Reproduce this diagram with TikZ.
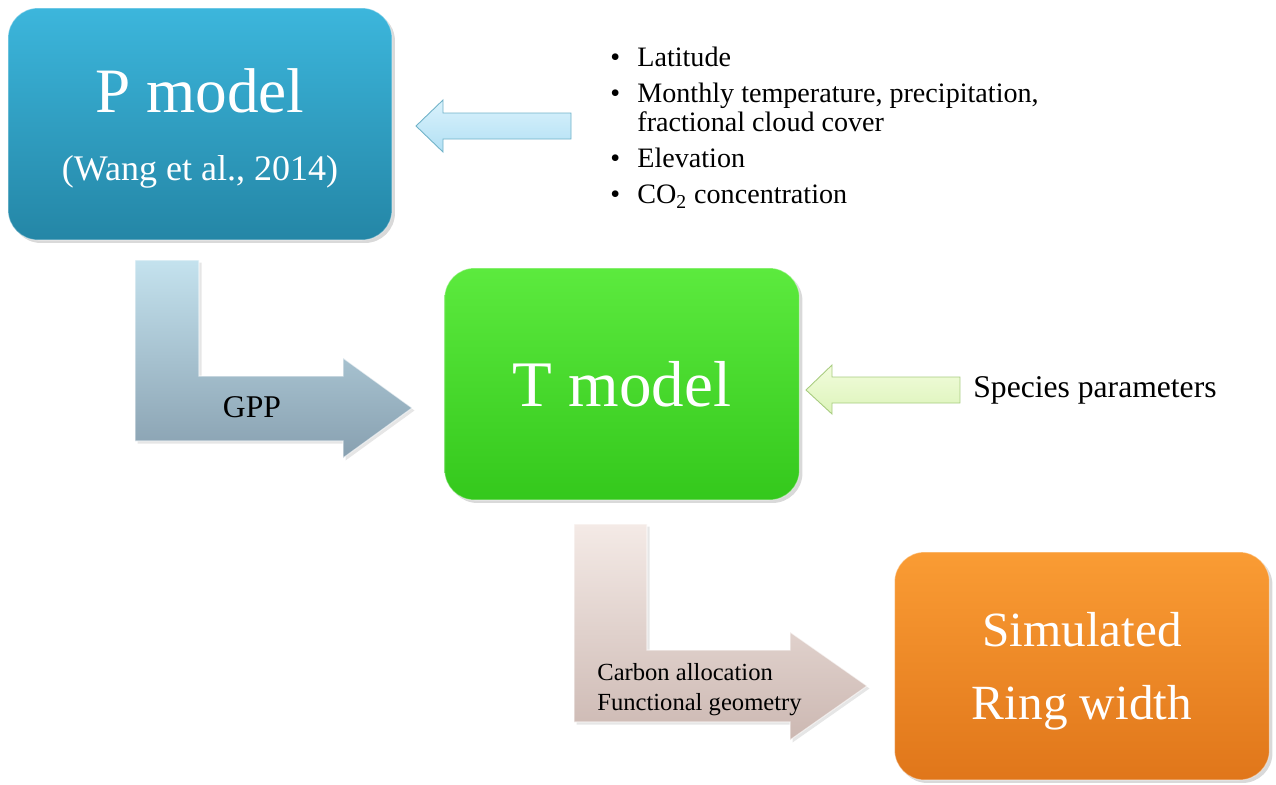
\documentclass[tikz,border=0pt]{standalone}
\usepackage{fontspec}
\setmainfont{Liberation Serif}
\usepackage{tikz}
\usetikzlibrary{shadows}
\definecolor{pmodeltop}{RGB}{60,182,220}
\definecolor{pmodelbot}{RGB}{36,134,166}
\definecolor{tmodeltop}{RGB}{92,234,62}
\definecolor{tmodelbot}{RGB}{52,200,28}
\definecolor{ringtop}{RGB}{250,156,52}
\definecolor{ringbot}{RGB}{224,118,26}
\definecolor{climtop}{RGB}{218,242,252}
\definecolor{climbot}{RGB}{178,224,244}
\definecolor{climedge}{RGB}{112,178,200}
\definecolor{sptop}{RGB}{242,252,220}
\definecolor{spbot}{RGB}{220,244,186}
\definecolor{spedge}{RGB}{168,204,128}
\definecolor{gpptop}{RGB}{196,226,238}
\definecolor{gppbot}{RGB}{136,160,176}
\definecolor{alloctop}{RGB}{244,234,230}
\definecolor{allocbot}{RGB}{204,184,178}
\newcommand{\inputitem}{\makebox[15.4pt][l]{\textbullet}}

\begin{document}
\begin{tikzpicture}[
    x=0.02cm, y=-0.02cm,
    every node/.style={font=\fontsize{18}{21}\selectfont},
    modelbox/.style={rectangle, rounded corners=0.6cm, text=white, align=center, draw=white, draw opacity=0.4, line width=0.6pt, drop shadow={opacity=0.3, shadow xshift=0.6mm, shadow yshift=-0.6mm}},
    straightarrow/.style={line width=0.5pt, line join=miter},
    bentarrow/.style={draw=white, draw opacity=0.6, line width=0.6pt, drop shadow={opacity=0.2, shadow xshift=0.5mm, shadow yshift=-0.5mm}}
]
\useasboundingbox (0,0) rectangle (1276,785);

\node[modelbox, top color=pmodeltop, bottom color=pmodelbot, minimum width=7.68cm, minimum height=4.64cm] (pmodel) at (200,124) {
    \rule{0pt}{30pt}{\fontsize{36}{40}\selectfont P model}\\[0.62cm]
    {\fontsize{20.5}{24}\selectfont (Wang et al., 2014)}
};

\node[modelbox, top color=tmodeltop, bottom color=tmodelbot, minimum width=7.1cm, minimum height=4.64cm, font=\fontsize{37}{40}\selectfont] (tmodel) at (622,384) {T model};

\node[modelbox, top color=ringtop, bottom color=ringbot, minimum width=7.5cm, minimum height=4.56cm, font=\fontsize{28}{41.5}\selectfont] (ring) at (1082,666) {
    \rule{0pt}{25pt}Simulated\\
    Ring width
};

% inputs
\node[anchor=north west, inner sep=0, align=left, font=\fontsize{16}{16.5}\selectfont] (climate) at (610,47) {
    \inputitem Latitude\\[4pt]
    \inputitem Monthly temperature, precipitation,\\
    \hspace*{15.4pt}fractional cloud cover\\[4pt]
    \inputitem Elevation\\[4pt]
    \inputitem CO\textsubscript{2} concentration
};
\node[anchor=west, inner sep=0] (species) at (973,390) {Species parameters};

\path[straightarrow, draw=climedge, top color=climtop, bottom color=climbot]
    (571,113) -- (443,113) -- (443,100) -- (416,126) -- (443,152) -- (443,139) -- (571,139) -- cycle;
\path[straightarrow, draw=spedge, top color=sptop, bottom color=spbot]
    (960,377) -- (832,377) -- (832,365) -- (806,390) -- (832,414) -- (832,403) -- (960,403) -- cycle;

% P model -> T model -> ring width
\path[bentarrow, top color=gpptop, bottom color=gppbot]
    (135,260) -- (199,260) -- (199,376) -- (343,376) -- (343,358) -- (412,408) -- (343,458) -- (343,441) -- (135,441) -- cycle;
\node (gpp) at (252,407) {GPP};

\path[bentarrow, top color=alloctop, bottom color=allocbot]
    (574,524) -- (647,524) -- (647,650) -- (790,650) -- (790,632) -- (867,686) -- (790,740) -- (790,722) -- (574,722) -- cycle;
\node[anchor=west, inner sep=0, align=left, font=\fontsize{14}{17}\selectfont] (alloc) at (597,690) {
    Carbon allocation\\
    Functional geometry
};

\end{tikzpicture}
\end{document}
